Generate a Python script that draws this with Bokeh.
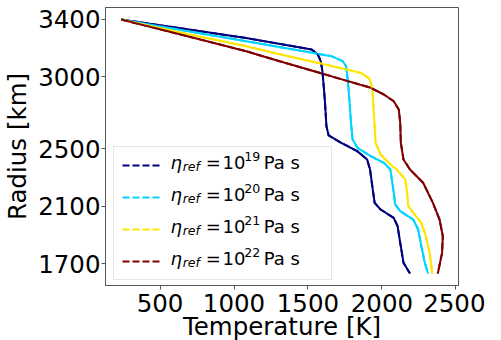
from bokeh.plotting import figure
from bokeh.models import Range1d, FixedTicker, Legend, LegendItem, Label
from bokeh.core.properties import value
from bokeh.embed import file_html
from bokeh.resources import INLINE

# ---------------- data ----------------
exponents = ["19", "20", "21", "22"]
colors = ["#00007f", "#00d4ff", "#ffe600", "#7f0000"]

temp_19 = [237, 616, 1082, 1303, 1525, 1567, 1587, 1598, 1614, 1625, 1640, 1725, 1833, 1900, 1920, 1935, 1951, 1991, 2080, 2106, 2124, 2146, 2190]
radius_19 = [3400, 3342, 3271, 3231, 3191, 3156, 3108, 3040, 2843, 2657, 2593, 2542, 2484, 2426, 2356, 2240, 2124, 2078, 2020, 1962, 1846, 1707, 1632]

temp_20 = [237, 660, 1082, 1414, 1658, 1735, 1758, 1769, 1780, 1791, 1802, 1835, 1924, 2013, 2057, 2074, 2090, 2124, 2212, 2245, 2267, 2290, 2312]
radius_20 = [3400, 3324, 3249, 3189, 3145, 3110, 3075, 2982, 2843, 2681, 2565, 2507, 2449, 2403, 2356, 2240, 2113, 2066, 2008, 1939, 1822, 1707, 1632]

temp_21 = [237, 660, 1082, 1303, 1525, 1747, 1858, 1914, 1935, 1941, 1951, 1957, 1991, 2057, 2101, 2157, 2168, 2179, 2212, 2267, 2297, 2323, 2340]
radius_21 = [3400, 3305, 3214, 3160, 3108, 3056, 3028, 2990, 2927, 2820, 2657, 2542, 2461, 2391, 2356, 2287, 2217, 2101, 2055, 1985, 1892, 1776, 1632]

temp_22 = [237, 660, 1082, 1303, 1525, 1747, 1924, 2013, 2080, 2114, 2124, 2128, 2146, 2190, 2279, 2345, 2390, 2412, 2407, 2378]
radius_22 = [3400, 3290, 3179, 3111, 3045, 2978, 2925, 2878, 2831, 2774, 2681, 2542, 2426, 2356, 2264, 2124, 2008, 1892, 1776, 1632]

temps = [temp_19, temp_20, temp_21, temp_22]
radii = [radius_19, radius_20, radius_21, radius_22]

x_ticks = [500, 1000, 1500, 2000, 2500]
y_ticks = [1700, 2100, 2500, 3000, 3400]

# ---------------- figure ----------------
X0, X1 = 131, 2518
Y0, Y1 = 1549, 3483.5
FL, FT, FW, FH = 107, 8, 359, 278  # frame position in window px (for legend text placement)

p = figure(width=485, height=343, x_range=Range1d(X0, X1), y_range=Range1d(Y0, Y1),
           output_backend="svg", toolbar_location=None,
           min_border_left=99, min_border_right=27, min_border_top=7, min_border_bottom=58,
           x_axis_label="Temperature [K]", y_axis_label="Radius [km]")

p.xgrid.visible = False
p.ygrid.visible = False
p.outline_line_color = "#555555"
p.outline_line_width = 1
p.background_fill_color = "white"
p.border_fill_color = "white"

for ax in (p.xaxis[0], p.yaxis[0]):
    ax.axis_line_color = "#555555"
    ax.major_tick_line_color = "#555555"
    ax.major_tick_out = 4
    ax.major_tick_in = 0
    ax.minor_tick_out = 0
    ax.minor_tick_in = 0
    ax.major_label_text_font = "DejaVu Sans"
    ax.major_label_text_font_size = "24.5px"
    ax.major_label_text_color = "black"
    ax.axis_label_text_font = "DejaVu Sans"
    ax.axis_label_text_font_size = "24.5px"
    ax.axis_label_text_font_style = "normal"
    ax.axis_label_text_color = "black"

p.xaxis[0].ticker = FixedTicker(ticks=x_ticks)
p.yaxis[0].ticker = FixedTicker(ticks=y_ticks)
p.xaxis[0].major_label_standoff = 4
p.xaxis[0].axis_label_standoff = -3
p.yaxis[0].major_label_standoff = 1
p.yaxis[0].axis_label_standoff = 3

items = []
for T, R, c in zip(temps, radii, colors):
    p.line(T, R, line_color=c, line_width=2)
for T, R, c in zip(temps, radii, colors):
    r = p.line(T, R, line_color=c, line_width=2, line_dash="7 3")
    items.append(LegendItem(label=value(""), renderers=[r]))

legend = Legend(items=items, location=(8, 5), glyph_width=40, glyph_height=20,
                label_width=150, label_height=20, label_standoff=11, padding=8,
                spacing=12, margin=0, border_line_color="#cccccc", border_line_width=1,
                background_fill_alpha=0.0, label_text_font_size="8px")
p.add_layout(legend)


def tx(sx):
    return X0 + (sx - FL) * (X1 - X0) / FW


def ry(sy):
    return Y1 - (sy - FT) * (Y1 - Y0) / FH


for i, e in enumerate(exponents):
    cy = 165 + 32 * i
    base = cy - 2
    pieces = [
        ("\u03b7", 173, base, "18px", "italic"),
        ("ref", 185.5, base + 4, "12.6px", "italic"),
        ("=", 209, base, "18px", "normal"),
        ("10", 226, base, "18px", "normal"),
        (e, 248, base - 6, "12.6px", "normal"),
        ("Pa s", 268, base, "18px", "normal"),
    ]
    for txt, sx, sy, fs, st in pieces:
        p.add_layout(Label(x=tx(sx), y=ry(sy), text=txt, text_font="DejaVu Sans",
                           text_font_size=fs, text_font_style=st, text_color="black",
                           text_align="left", text_baseline="alphabetic", level="overlay"))

open("out.html", "w").write(file_html(p, INLINE))
